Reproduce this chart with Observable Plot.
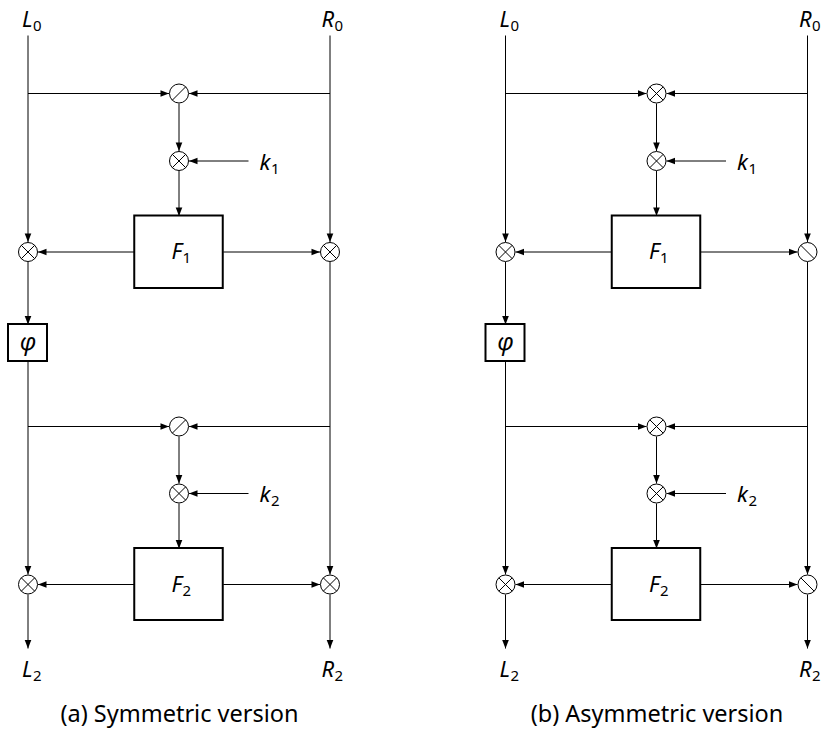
<!DOCTYPE html>
<html><head><meta charset="utf-8">
<script src="https://cdn.jsdelivr.net/npm/d3@7"></script>
<script src="https://cdn.jsdelivr.net/npm/@observablehq/plot@0.6"></script>
<style>html,body{margin:0;padding:0;background:#fff}</style>
</head><body><div id="chart"></div>
<script>
// ---------- content of the two diagrams ----------
const captions   = ["(a) Symmetric version", "(b) Asymmetric version"];
const mixOps     = ["oslash", "otimes"];      // operator combining L and R before the key
const leftOps    = ["otimes", "otimes"];      // operator on the L branch
const rightOps   = ["otimes", "obackslash"];  // operator on the R branch
const keyOps     = ["otimes", "otimes"];      // operator with the round key
const rounds     = ["1", "2"];                // round indices (k_i, F_i)
const inputs     = [["L", "0"], ["R", "0"]];
const outputs    = [["L", "2"], ["R", "2"]];
const keyName    = "k";
const funcName   = "F";
const phiName    = "φ";

// ---------- layout (diagram units = pixels) ----------
const W = 823, H = 734;
const panelX0 = [0, 477.5];
const colL = 27.5, colC = 178.5, colR = 329.5;
const keyFrom = 248, keyLabelSplit = 270;
const boxX1 = 134.25, boxX2 = 222.75;
const roundRows = [
  {mix: 93,  key: 160.5, top: 215.5, mid: 251.5, bot: 288},
  {mix: 426, key: 493,   top: 548,   mid: 584,   bot: 620}
];
const phiBox = {x1: 8, x2: 47, y1: 324, y2: 361};
const lineTop = 35, outEnd = 648, inBase = 26, outBase = 676, capBase = 721;
const R = 9.5, tip = 10;

const segs = [], heads = [], circles = [], strokes = [], boxes = [], bases = [], subs = [], caps = [];

function seg(x1, y1, x2, y2, arrow = true) {
  segs.push({x1, y1, x2, y2});
  if (arrow) {
    const a = Math.atan2(y2 - y1, x2 - x1) * 180 / Math.PI;
    heads.push({x: x2, y: y2, rotate: a + 90});
  }
}
function op(x, y, type) {
  circles.push({x, y});
  const d = R * Math.SQRT1_2;
  if (type === "otimes" || type === "oslash") strokes.push({x1: x - d, y1: y + d, x2: x + d, y2: y - d});
  if (type === "otimes" || type === "obackslash") strokes.push({x1: x - d, y1: y - d, x2: x + d, y2: y + d});
}
function label(x, y, base, sub, split) {
  bases.push({x: x + split, y, t: base});
  subs.push({x: x + split + 0.5, y: y + 4, t: sub});
}

captions.forEach((cap, p) => {
  const o = panelX0[p];
  const xL = o + colL, xC = o + colC, xR = o + colR;
  label(xL, inBase, inputs[0][0], inputs[0][1], 4.5);
  label(xR, inBase, inputs[1][0], inputs[1][1], 4);
  label(xL, outBase, outputs[0][0], outputs[0][1], 4.5);
  label(xR, outBase, outputs[1][0], outputs[1][1], 4);
  caps.push({x: o + 179, y: capBase, t: cap});

  const r1 = roundRows[0], r2 = roundRows[1];
  seg(xL, lineTop, xL, r1.mid - tip);
  seg(xR, lineTop, xR, r1.mid - tip);
  seg(xL, r1.mid + tip, xL, phiBox.y1);
  seg(xL, phiBox.y2, xL, r2.mid - tip);
  seg(xR, r1.mid + tip, xR, r2.mid - tip);
  seg(xL, r2.mid + tip, xL, outEnd);
  seg(xR, r2.mid + tip, xR, outEnd);
  boxes.push({x1: o + phiBox.x1, x2: o + phiBox.x2, y1: phiBox.y1, y2: phiBox.y2});
  bases.push({x: xL, y: (phiBox.y1 + phiBox.y2) / 2 + 7, t: phiName, mid: true});

  roundRows.forEach((rw, i) => {
    seg(xL, rw.mix, xC - tip, rw.mix);
    seg(xR, rw.mix, xC + tip, rw.mix);
    op(xC, rw.mix, mixOps[p]);
    seg(xC, rw.mix + tip, xC, rw.key - tip);
    seg(o + keyFrom, rw.key, xC + tip, rw.key);
    op(xC, rw.key, keyOps[p]);
    label(o + keyLabelSplit, rw.key + 8.5, keyName, rounds[i], 0);
    seg(xC, rw.key + tip, xC, rw.top);
    boxes.push({x1: o + boxX1, x2: o + boxX2, y1: rw.top, y2: rw.bot});
    label(xC, rw.mid + 7, funcName, rounds[i], 3);
    seg(o + boxX1, rw.mid, xL + tip, rw.mid);
    seg(o + boxX2, rw.mid, xR - tip, rw.mid);
    op(xL, rw.mid, leftOps[p]);
    op(xR, rw.mid, rightOps[p]);
  });
});

const arrowSymbol = {
  draw(ctx) {
    const L = 8.5, w = 3.3;
    ctx.moveTo(0, 0);
    ctx.lineTo(w, L);
    ctx.lineTo(-w, L);
    ctx.closePath();
  }
};

const plot = Plot.plot({
  width: W, height: H,
  marginTop: 0, marginRight: 0, marginBottom: 0, marginLeft: 0,
  x: {domain: [0, W], range: [0, W], axis: null},
  y: {domain: [0, H], range: [0, H], axis: null},
  marks: [
    Plot.link(segs, {x1: "x1", y1: "y1", x2: "x2", y2: "y2", stroke: "#000", strokeWidth: 1}),
    Plot.rect(boxes, {x1: "x1", x2: "x2", y1: "y1", y2: "y2", fill: "#fff", stroke: "#000", strokeWidth: 2}),
    Plot.dot(circles, {x: "x", y: "y", r: R, fill: "#fff", stroke: "#000", strokeWidth: 1}),
    Plot.link(strokes, {x1: "x1", y1: "y1", x2: "x2", y2: "y2", stroke: "#000", strokeWidth: 1}),
    Plot.dot(heads, {x: "x", y: "y", rotate: "rotate", symbol: arrowSymbol, r: 5, fill: "#000", stroke: "none"}),
    Plot.text(bases.filter(d => !d.mid), {x: "x", y: "y", text: "t", textAnchor: "end", lineAnchor: "bottom",
      fontSize: 22, fontStyle: "italic", fill: "#000", ariaLabel: "math"}),
    Plot.text(bases.filter(d => d.mid), {x: "x", y: "y", text: "t", textAnchor: "middle", lineAnchor: "bottom",
      fontSize: 24, fontStyle: "italic", fill: "#000", ariaLabel: "phi"}),
    Plot.text(subs, {x: "x", y: "y", text: "t", textAnchor: "start", lineAnchor: "bottom",
      fontSize: 15, fill: "#000", ariaLabel: "sub"}),
    Plot.text(caps, {x: "x", y: "y", text: "t", textAnchor: "middle", lineAnchor: "bottom",
      fontSize: 23.5, fill: "#000", ariaLabel: "caption"})
  ]
});
document.getElementById("chart").appendChild(plot);
const fontSpec = {
  math: [22, "italic", "Liberation Serif"],
  phi: [24, "italic", "Liberation Serif"],
  sub: [15, "normal", "Liberation Serif"],
  caption: [21, "normal", "DejaVu Serif"]
};
Object.entries(fontSpec).forEach(([k, [size, style, fam]]) => {
  plot.querySelectorAll(`g[aria-label="${k}"] text`).forEach(t => {
    t.style.setProperty("font-family", fam, "important");
    t.style.setProperty("font-size", size + "px", "important");
    t.style.setProperty("font-style", style, "important");
  });
});
</script>
</body></html>
